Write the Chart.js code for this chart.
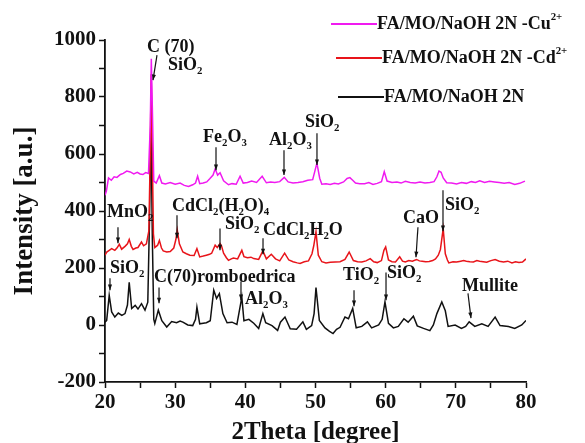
<!DOCTYPE html>
<html>
<head>
<meta charset="utf-8">
<script src="https://cdn.jsdelivr.net/npm/chart.js@4.4.0/dist/chart.umd.min.js"></script>
<style>
html,body{margin:0;padding:0;background:#fff}
#wrap{position:relative;width:585px;height:443px}
</style>
</head>
<body>
<div id="wrap"><canvas id="chart"></canvas></div>
<script>
// 2Theta positions and intensities
const cuX = [20.0,20.2,20.5,20.9,21.3,21.7,22.2,22.6,23.1,23.6,24.1,24.6,25.0,25.4,25.8,26.2,26.45,26.6,26.75,26.95,27.3,27.75,28.1,28.6,29.3,30.0,30.7,31.3,31.9,32.5,32.9,33.2,33.5,34.0,34.5,34.96,35.4,35.7,36.05,36.4,36.9,37.6,38.1,38.7,39.25,39.7,40.3,40.9,41.6,42.4,43.0,43.6,44.2,44.9,45.55,46.1,46.8,47.5,48.2,48.9,49.6,50.2,50.6,50.9,51.5,52.1,52.7,53.25,54.0,54.5,54.9,55.3,55.7,56.3,57.0,57.6,58.2,58.8,59.4,59.8,60.2,60.9,61.6,62.2,62.8,63.5,64.2,64.9,65.6,66.3,66.9,67.3,67.6,67.9,68.2,68.7,69.4,70.1,70.8,71.5,72.2,72.8,73.4,74.1,74.8,75.5,76.2,76.9,77.6,78.4,79.1,79.85];
const cuY = [455,470,516,508,520,518,528,532,540,537,530,536,530,528,535,532,700,934,760,505,498,524,498,495,500,494,498,490,486,492,498,522,496,498,502,514,526,548,526,534,506,492,496,494,522,498,500,505,500,522,499,502,500,503,518,502,498,500,503,508,510,568,515,494,496,493,497,495,502,514,517,508,498,496,496,500,493,497,503,538,505,500,502,498,504,500,498,502,498,500,503,520,540,536,516,499,498,495,500,497,503,500,506,500,504,502,500,497,500,493,497,505];

const cdX = [20.0,20.25,20.6,20.95,21.4,21.7,22.04,22.37,22.85,23.2,23.45,23.75,24.0,24.4,24.7,25.2,25.5,25.9,26.25,26.45,26.58,26.72,26.9,27.1,27.5,27.75,28.05,28.3,28.8,29.3,29.8,30.1,30.3,30.6,31.1,31.6,32.1,32.7,33.1,33.5,34.0,34.45,34.9,35.2,35.7,36.0,36.4,36.6,36.9,37.3,37.6,38.0,38.3,38.9,39.5,39.8,40.3,40.8,41.2,41.9,42.5,43.0,43.7,44.3,44.9,45.6,46.2,46.8,47.4,47.8,48.4,49.0,49.5,49.75,50.07,50.4,50.9,51.5,52.1,52.8,53.5,54.2,54.8,55.4,56.0,56.6,57.2,57.8,58.3,58.8,59.4,59.75,60.0,60.4,60.9,61.4,62.0,62.4,62.8,63.3,63.8,64.4,64.8,65.2,65.7,66.2,66.7,67.1,67.5,67.8,68.2,68.5,68.8,69.0,69.6,70.1,70.7,71.1,71.5,72.0,72.5,73.0,73.4,73.9,74.4,75.0,75.6,76.2,76.8,77.4,78.0,78.5,79.0,79.5,80.0];
const cdY = [245,256,262,268,262,270,283,266,276,285,300,276,265,270,272,291,278,285,330,600,880,640,320,272,280,297,270,260,256,258,270,300,333,285,256,250,245,244,268,239,242,245,248,252,280,272,286,278,252,236,227,232,235,232,262,240,236,238,233,230,260,232,248,232,225,252,228,222,218,216,222,225,250,278,327,245,222,218,220,221,222,230,256,226,222,221,225,233,222,219,226,262,274,228,222,221,239,224,221,226,224,230,225,224,222,223,226,232,245,265,338,250,228,218,222,221,224,226,224,222,221,226,224,222,220,226,230,224,221,224,218,222,219,221,232];

const baseX = [20.0,20.24,20.6,20.95,21.4,21.9,22.4,22.85,23.2,23.45,23.8,24.3,24.7,25.2,25.7,26.1,26.35,26.55,26.75,26.95,27.1,27.6,28.1,28.8,29.5,30.2,30.7,31.1,31.8,32.5,32.9,33.1,33.5,34.0,34.45,35.0,35.5,35.9,36.3,36.8,37.4,38.1,38.8,39.5,39.8,40.5,41.2,41.9,42.5,42.9,43.8,44.6,45.0,45.65,46.4,47.3,48.2,48.7,49.45,49.8,50.07,50.55,51.35,52.0,52.5,53.0,53.5,54.2,54.7,55.3,55.8,56.6,57.4,58.0,59.0,59.5,59.9,60.4,61.1,61.8,62.6,63.2,63.95,64.5,65.4,66.3,66.8,67.3,68.0,68.5,68.9,69.9,70.8,71.4,71.9,72.7,73.7,74.6,75.6,76.3,77.5,78.4,79.4,80.0];
const baseY = [10,16,104,46,28,42,34,40,70,150,58,69,56,75,52,80,380,720,300,20,5,52,15,-7,12,8,14,10,0,-2,20,63,4,6,8,15,122,93,110,40,8,10,2,98,15,20,6,-12,40,8,-2,-19,10,28,-13,-15,11,-15,-2,40,131,16,-10,-22,-30,-15,-8,28,22,58,-10,-5,11,-10,0,20,81,6,-10,-5,22,10,31,-3,-12,-20,0,40,81,50,-5,0,-12,-5,11,-5,4,-5,28,-2,-5,-12,0,16];

const seriesNames = ["FA/MO/NaOH 2N -Cu^2+", "FA/MO/NaOH 2N -Cd^2+", "FA/MO/NaOH 2N"];
const seriesColors = ["#f01af0", "#e8141a", "#111111"];

const xTicks = [20, 30, 40, 50, 60, 70, 80];
const yTicks = [-200, 0, 200, 400, 600, 800, 1000];

// phase labels: text, label x/y, arrow from -> to (all in data units)
const labels = [
  {t:"C (70)", x:25.99, y:975, ax:null},
  {t:"SiO_2", x:28.98, y:912, ax:[27.41,947,26.84,859]},
  {t:"Fe_2O_3", x:33.97, y:659, ax:[35.82,624,35.82,543]},
  {t:"Al_2O_3", x:43.37, y:649, ax:[45.51,613,45.51,526]},
  {t:"SiO_2", x:48.5, y:712, ax:[50.21,673,50.21,561]},
  {t:"MnO_2", x:20.29, y:396, ax:[21.85,343,21.85,287]},
  {t:"CdCl_2(H_2O)_4", x:29.55, y:417, ax:[30.26,385,30.26,304]},
  {t:"SiO_2", x:37.1, y:354, ax:[36.39,339,36.39,262]},
  {t:"CdCl_2H_2O", x:42.52, y:333, ax:[42.52,304,42.52,248]},
  {t:"CaO", x:62.47, y:375, ax:[64.6,343,64.32,238]},
  {t:"SiO_2", x:68.45, y:420, ax:[68.17,473,68.17,329]},
  {t:"SiO_2", x:20.71, y:199, ax:[20.71,164,20.71,122]},
  {t:"C(70)romboedrica", x:26.98, y:167, ax:[27.7,132,27.7,76]},
  {t:"Al_2O_3", x:39.95, y:90, ax:[39.38,153,39.38,87]},
  {t:"TiO_2", x:53.92, y:174, ax:[55.49,122,55.49,66]},
  {t:"SiO_2", x:60.19, y:181, ax:[60.05,184,60.05,87]},
  {t:"Mullite", x:70.88, y:136, ax:[71.73,111,72.16,24]}
];

const FONT = "'Liberation Serif', 'Times New Roman', serif";

function parts(s) {
  const out = [];
  let i = 0;
  while (i < s.length) {
    if (s[i] === "_") { out.push({s:s[i+1], k:"sub"}); i += 2; }
    else if (s[i] === "^") { out.push({s:s.slice(i+1), k:"sup"}); break; }
    else {
      let j = i;
      while (j < s.length && s[j] !== "_" && s[j] !== "^") j++;
      out.push({s:s.slice(i, j), k:"n"}); i = j;
    }
  }
  return out;
}

function richText(ctx, s, x, y, size) {
  ctx.textBaseline = "middle";
  ctx.textAlign = "left";
  for (const p of parts(s)) {
    let fs = size, dy = 0;
    if (p.k === "sub") { fs = size * 0.6; dy = size * 0.32; }
    if (p.k === "sup") { fs = size * 0.6; dy = -size * 0.38; }
    ctx.font = "bold " + fs + "px " + FONT;
    ctx.fillText(p.s, x, y + dy);
    x += ctx.measureText(p.s).width;
  }
}

function arrow(ctx, x1, y1, x2, y2) {
  ctx.beginPath(); ctx.moveTo(x1, y1); ctx.lineTo(x2, y2); ctx.stroke();
  const a = Math.atan2(y2 - y1, x2 - x1), h = 6;
  ctx.beginPath();
  ctx.moveTo(x2, y2);
  ctx.lineTo(x2 - h * Math.cos(a - 0.35), y2 - h * Math.sin(a - 0.35));
  ctx.lineTo(x2 - h * Math.cos(a + 0.35), y2 - h * Math.sin(a + 0.35));
  ctx.closePath(); ctx.fill();
}

const annotate = {
  id: "annotate",
  afterDraw(chart) {
    const ctx = chart.ctx, xs = chart.scales.x, ys = chart.scales.y;
    ctx.save();
    ctx.fillStyle = "#111"; ctx.strokeStyle = "#111"; ctx.lineWidth = 1.2;
    for (const l of labels) {
      richText(ctx, l.t, xs.getPixelForValue(l.x), ys.getPixelForValue(l.y), 18);
      if (l.ax) arrow(ctx, xs.getPixelForValue(l.ax[0]), ys.getPixelForValue(l.ax[1]),
                      xs.getPixelForValue(l.ax[2]), ys.getPixelForValue(l.ax[3]));
    }
    // legend
    const rows = [{x:331, y:24}, {x:336, y:58}, {x:338, y:97}];
    chart.data.datasets.forEach((d, i) => {
      const r = rows[i];
      ctx.strokeStyle = d.borderColor; ctx.lineWidth = 1.8;
      ctx.beginPath(); ctx.moveTo(r.x, r.y); ctx.lineTo(r.x + 46, r.y); ctx.stroke();
      ctx.fillStyle = "#111";
      richText(ctx, seriesNames[i], r.x + 46, r.y, 18);
    });
    ctx.restore();
  }
};

function pts(xv, yv) { return xv.map((x, i) => ({x: x, y: yv[i]})); }

new Chart(document.getElementById("chart"), {
  type: "line",
  data: {
    datasets: [
      {label: seriesNames[0], data: pts(cuX, cuY), borderColor: seriesColors[0], order: 0},
      {label: seriesNames[1], data: pts(cdX, cdY), borderColor: seriesColors[1], order: 1},
      {label: seriesNames[2], data: pts(baseX, baseY), borderColor: seriesColors[2], order: 2}
    ]
  },
  options: {
    responsive: true,
    maintainAspectRatio: false,
    animation: false,
    elements: {
      point: {radius: 0},
      line: {borderWidth: 1.5, tension: 0}
    },
    layout: {padding: {top: 40, right: 59, left: 0, bottom: 0}},
    plugins: {legend: {display: false}, tooltip: {enabled: false}},
    scales: {
      x: {
        type: "linear", min: 20, max: 80,
        afterBuildTicks(s) { s.ticks = [20,25,30,35,40,45,50,55,60,65,70,75,80].map(v => ({value: v})); },
        afterFit(s) { s.height = 61; },
        ticks: {
          color: "#111", padding: 2,
          font: {family: FONT, size: 21, weight: "bold"},
          callback: v => xTicks.includes(v) ? v : ""
        },
        grid: {drawOnChartArea: false, tickLength: 6, tickColor: "#111", tickWidth: 1.5},
        border: {color: "#111", width: 1.8},
        title: {display: true, text: "2Theta [degree]", color: "#111",
                font: {family: FONT, size: 25, weight: "bold", lineHeight: 0.8}, padding: 0}
      },
      y: {
        min: -200, max: 1000,
        afterBuildTicks(s) {
          const t = [];
          for (let v = -200; v <= 1000; v += 100) t.push({value: v});
          s.ticks = t;
        },
        afterFit(s) { s.width = 105; },
        ticks: {
          color: "#111", padding: 3,
          font: {family: FONT, size: 21, weight: "bold"},
          callback: v => yTicks.includes(v) ? v : ""
        },
        grid: {drawOnChartArea: false, tickLength: 6, tickColor: "#111", tickWidth: 1.5},
        border: {color: "#111", width: 1.8},
        title: {display: true, text: "Intensity [a.u.]", color: "#111",
                font: {family: FONT, size: 27, weight: "bold"}, padding: {top: 9, bottom: 0}}
      }
    }
  },
  plugins: [annotate]
});
</script>
</body>
</html>
